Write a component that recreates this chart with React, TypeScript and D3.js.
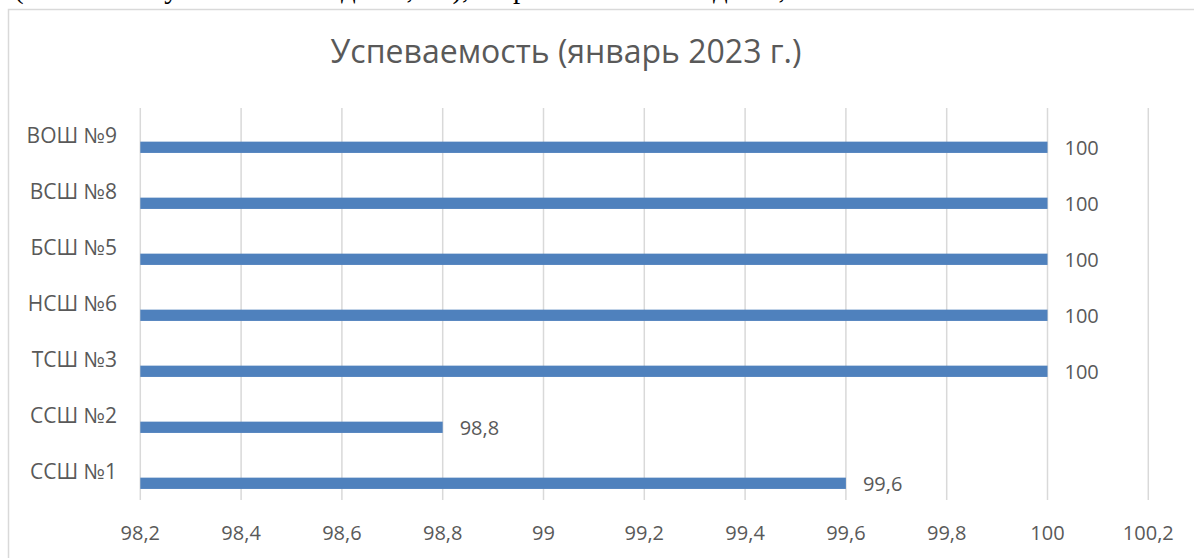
import React, { useEffect, useRef } from "react";
import * as d3 from "d3";

// categories, bottom to top as in the source sheet
const categories = ["ССШ №1", "ССШ №2", "ТСШ №3", "НСШ №6", "БСШ №5", "ВСШ №8", "ВОШ №9"];
const values = [99.6, 98.8, 100, 100, 100, 100, 100];
const seriesKeys = ["Ряд3", "Ряд2", "Ряд1"]; // only Ряд1 is filled
const tickValues = [98.2, 98.4, 98.6, 98.8, 99, 99.2, 99.4, 99.6, 99.8, 100, 100.2];
const title = "Успеваемость (январь 2023 г.)";
const pageLine = "(показатель успеваемости до 98,8%), в прочих школах – до 99,6%.";

const W = 1194,
  H = 558;

const fmt = (v: number) => String(v).replace(".", ",");

export default function App() {
  const node = useRef<SVGSVGElement>(null);

  useEffect(() => {
    const svg = d3.select(node.current);
    svg.selectAll("*").remove();

    const font = "'Open Sans', Lato, sans-serif";
    const grey = "#595959";

    // text of the document running above the chart, cut by the page edge
    svg
      .append("text")
      .attr("x", 14)
      .attr("y", -2)
      .attr("font-family", "'Liberation Serif', serif")
      .attr("font-size", 29)
      .attr("fill", "#000")
      .text(pageLine);

    // chart frame
    svg
      .append("rect")
      .attr("x", 8.5)
      .attr("y", 9.5)
      .attr("width", 1400)
      .attr("height", 800)
      .attr("fill", "#fff")
      .attr("stroke", "#d9d9d9")
      .attr("stroke-width", 1.5);

    const x = d3.scaleLinear().domain([98.2, 100.2]).range([140.3, 1148.3]);
    const y = d3.scaleBand().domain(categories).range([500, 108]);
    const sub = d3.scaleBand().domain(seriesKeys).range([0, y.bandwidth()]).paddingOuter(0.98);

    svg
      .append("text")
      .attr("x", 566)
      .attr("y", 63)
      .attr("text-anchor", "middle")
      .attr("font-family", font)
      .attr("font-size", 32)
      .attr("fill", grey)
      .text(title);

    // grid
    svg
      .selectAll(".grid")
      .data(tickValues)
      .enter()
      .append("line")
      .attr("class", "grid")
      .attr("x1", (d) => x(d))
      .attr("x2", (d) => x(d))
      .attr("y1", 108)
      .attr("y2", 500)
      .attr("stroke", "#d9d9d9")
      .attr("stroke-width", 1.5);

    svg
      .selectAll(".tick")
      .data(tickValues)
      .enter()
      .append("text")
      .attr("class", "tick")
      .attr("x", (d) => x(d))
      .attr("y", 540)
      .attr("text-anchor", "middle")
      .attr("font-family", font)
      .attr("font-size", 20)
      .attr("fill", grey)
      .text((d) => fmt(d));

    svg
      .selectAll(".cat")
      .data(categories)
      .enter()
      .append("text")
      .attr("class", "cat")
      .attr("x", 117)
      .attr("y", (d) => (y(d) as number) + y.bandwidth() / 2)
      .attr("dy", "0.35em")
      .attr("text-anchor", "end")
      .attr("font-family", font)
      .attr("font-size", 21)
      .attr("fill", grey)
      .text((d) => d);

    const rows = categories.map((c, i) => ({ c, v: values[i] }));

    svg
      .selectAll(".bar")
      .data(rows)
      .enter()
      .append("rect")
      .attr("class", "bar")
      .attr("x", x(98.2))
      .attr("y", (d) => (y(d.c) as number) + (sub("Ряд1") as number))
      .attr("width", (d) => x(d.v) - x(98.2))
      .attr("height", sub.bandwidth())
      .attr("fill", "#4f81bd");

    svg
      .selectAll(".val")
      .data(rows)
      .enter()
      .append("text")
      .attr("class", "val")
      .attr("x", (d) => x(d.v) + 17)
      .attr("y", (d) => (y(d.c) as number) + (sub("Ряд1") as number) + sub.bandwidth() / 2 + 1)
      .attr("dy", "0.35em")
      .attr("font-family", font)
      .attr("font-size", 20)
      .attr("fill", grey)
      .text((d) => fmt(d.v));
  }, []);

  return (
    <svg
      ref={node}
      width={W}
      height={H}
      style={{ position: "absolute", left: 0, top: 0, background: "#fff" }}
    />
  );
}
